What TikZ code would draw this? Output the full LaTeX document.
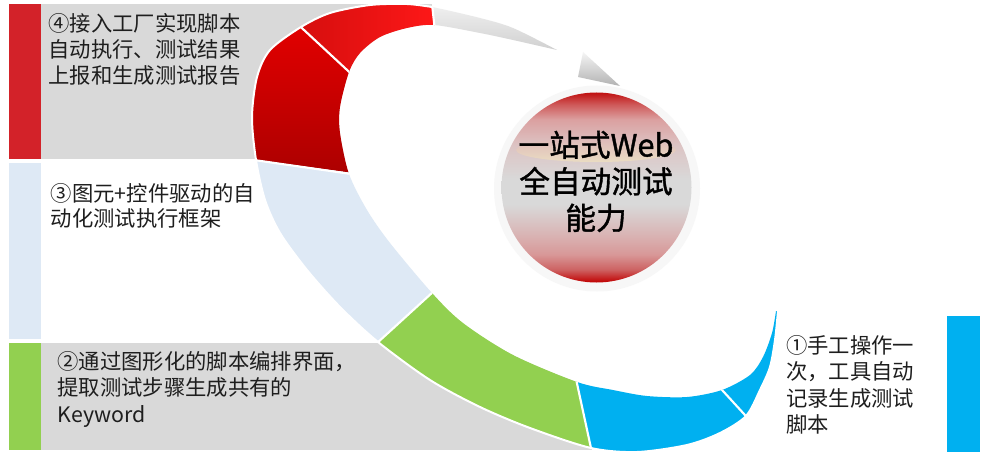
\documentclass[tikz,border=0pt]{standalone}
\usepackage{fontspec}
\setmainfont{Noto Sans CJK SC}
\newfontfamily\ballfont[FakeBold=1.2]{Noto Sans CJK SC}
\definecolor{cRedBar}{HTML}{D32229}
\definecolor{cGray}{HTML}{D9D9D9}
\definecolor{cLB}{HTML}{DEE9F5}
\definecolor{cGreen}{HTML}{92D050}
\definecolor{cBlue}{HTML}{00B0F0}
\definecolor{txtc}{HTML}{1E1E1E}
\definecolor{sR7}{HTML}{C01010}
\definecolor{sR6}{HTML}{CF5A5A}
\definecolor{sR5}{HTML}{DBA0A0}
\definecolor{sR4}{HTML}{DCC3C3}
\definecolor{sG}{HTML}{D9D9D9}
\definecolor{sR3}{HTML}{D9B4B4}
\definecolor{sR2}{HTML}{D89898}
\definecolor{sR1}{HTML}{CD6262}
\definecolor{sR0}{HTML}{C00000}
\pgfdeclareverticalshading{sphereshade}{100bp}{color(0bp)=(sR0); color(25bp)=(sR0); color(28.4bp)=(sR1); color(32.4bp)=(sR2); color(37.6bp)=(sR3); color(45.5bp)=(sG); color(52bp)=(sG); color(61.3bp)=(sR4); color(67.9bp)=(sR5); color(71.8bp)=(sR6); color(75bp)=(sR7); color(100bp)=(sR7)}
\newcommand\RingPath{plot[smooth,tension=0.5] coordinates {(778,311) (775,340) (770,367) (760,390) (746,416) (720,433) (687,445) (637,452) (591,448) (530,428) (480,407) (430,380) (378,342) (340,307) (307,270) (280,233) (265,200) (256,160) (252,117) (257,77) (270,50) (301,27) (330,13) (370,5) (407,4) (432,7) (480,18) (513,28) (557,50)} -- plot[smooth,tension=0.5] coordinates {(557,50) (513,40) (480,33) (434,25) (407,28) (380,37) (360,53) (349,72) (340,107) (340,133) (349,174) (367,210) (390,243) (432,293) (463,323) (513,355) (577,382) (613,390) (647,396) (687,397) (722,390) (750,375) (763,357) (772,333) (776,311)} -- cycle}
\newcommand\HolePath{plot[smooth,tension=0.5] coordinates {(776,311) (772,333) (763,357) (750,375) (722,390) (687,397) (647,396) (613,390) (577,382) (513,355) (463,323) (432,293) (390,243) (367,210) (349,174) (340,133) (340,107) (349,72) (360,53) (380,37) (407,28) (434,25) (480,33) (513,40) (557,50)} -- cycle}
\newcommand\OuterPath{plot[smooth,tension=0.5] coordinates {(778,311) (775,340) (770,367) (760,390) (746,416) (720,433) (687,445) (637,452) (591,448) (530,428) (480,407) (430,380) (378,342) (340,307) (307,270) (280,233) (265,200) (256,160) (252,117) (257,77) (270,50) (301,27) (330,13) (370,5) (407,4) (432,7)}}
\tikzset{
  lefttext/.style={anchor=base west, inner sep=0pt, font=\fontsize{16}{19}\selectfont, text=txtc},
  balltext/.style={anchor=base, inner sep=0pt, font=\fontsize{23}{28}\ballfont, text=black},
  sepline/.style={white, line width=1.6pt},
}
\begin{document}
\begin{tikzpicture}[x=0.75pt,y=-0.75pt]
\useasboundingbox (0,0) rectangle (988,463);
\fill[white] (0,0) rectangle (988,463);
% bands and bars
\fill[cGray] (41,4) rectangle (432,159);
\fill[cRedBar] (9,4) rectangle (41,159);
\fill[cLB] (9,163) rectangle (41,339);
\fill[cGray] (41,343) rectangle (592,450);
\fill[cGreen] (9,343) rectangle (41,450);
\fill[cBlue] (947,316) rectangle (980,452);
% hole
\fill[white] \HolePath;
% gray arrow body
\begin{scope}
  \clip (431,-10) -- (437,50) -- (650,120) -- (650,-10) -- cycle;
  \clip \RingPath;
  \shade[top color=gray!10, bottom color=gray!40] (425,2) rectangle (565,56);
\end{scope}
% top red
\begin{scope}
  \clip (257,-14) -- (378,99) -- (437,50) -- (431,-10) -- cycle;
  \clip \RingPath;
  \shade[left color={rgb,255:red,205;green,12;blue,12}, right color={rgb,255:red,255;green,24;blue,24}] (270,0) rectangle (440,110);
\end{scope}
% left red
\begin{scope}
  \clip (257,-14) -- (378,99) -- (389,178) -- (205,153) -- (200,-14) -- cycle;
  \clip \RingPath;
  \shade[top color={rgb,255:red,228;green,0;blue,0}, bottom color={rgb,255:red,168;green,0;blue,0}] (240,20) rectangle (400,185);
\end{scope}
% light blue
\begin{scope}
  \clip (205,153) -- (389,178) -- (462,266) -- (341,376) -- (200,376) -- cycle;
  \fill[cLB] \RingPath;
\end{scope}
% green
\begin{scope}
  \clip (341,376) -- (462,266) -- (569,343) -- (601,497) -- (300,497) -- cycle;
  \fill[cGreen] \RingPath;
\end{scope}
% blue 1
\begin{scope}
  \clip (601,497) -- (569,343) -- (695,361) -- (780,453) -- (700,500) -- cycle;
  \fill[cBlue] \RingPath;
\end{scope}
% blue 2
\begin{scope}
  \clip (780,453) -- (695,361) -- (700,250) -- (850,250) -- (850,460) -- cycle;
  \fill[cBlue] \RingPath;
\end{scope}
% separators
\begin{scope}
  \clip \RingPath;
  \draw[sepline] (431,-5) -- (436,40);
  \draw[sepline] (290,17) -- (360,82);
  \draw[sepline] (240,158) -- (365,176);
  \draw[sepline] (365,354) -- (445,281);
  \draw[sepline] (594,462) -- (573,365);
  \draw[sepline] (755,426) -- (712,379);
\end{scope}
\draw[white, line width=1.5pt] \OuterPath;
% arrow head
\shade[top color=gray!8, bottom color=gray!60] (583,52) -- (620,86) -- (578,77) -- cycle;
% sphere
\fill[gray!6] (597,188.5) circle[radius=103];
\shade[shading=sphereshade] (596.5,187.5) circle[radius=95];
\shade[top color={rgb,255:red,221;green,185;blue,185}, bottom color={rgb,255:red,234;green,220;blue,194}] (596,150) ellipse[x radius=80, y radius=12];
% texts
\node[balltext] (b1) at (596,156.5) {一站式Web};
\node[balltext] (b2) at (596,193) {全自动测试};
\node[balltext] (b3) at (596,229.5) {能力};
\node[lefttext] (t4a) at (48.3,31.6) {④接入工厂实现脚本};
\node[lefttext] (t4b) at (48.3,57.5) {自动执行、测试结果};
\node[lefttext] (t4c) at (48.3,83.3) {上报和生成测试报告};
\node[lefttext] (t3a) at (50.7,201.6) {③图元+控件驱动的自};
\node[lefttext] (t3b) at (50.7,226.6) {动化测试执行框架};
\node[lefttext] (t2a) at (57.3,369.5) {②通过图形化的脚本编排界面，};
\node[lefttext] (t2b) at (57.3,395.5) {提取测试步骤生成共有的};
\node[lefttext] (t2c) at (57.3,422) {Keyword};
\node[lefttext] (t1a) at (786,353) {①手工操作一};
\node[lefttext] (t1b) at (786,379.5) {次，工具自动};
\node[lefttext] (t1c) at (786,406) {记录生成测试};
\node[lefttext] (t1d) at (786,432.5) {脚本};
\end{tikzpicture}
\end{document}
